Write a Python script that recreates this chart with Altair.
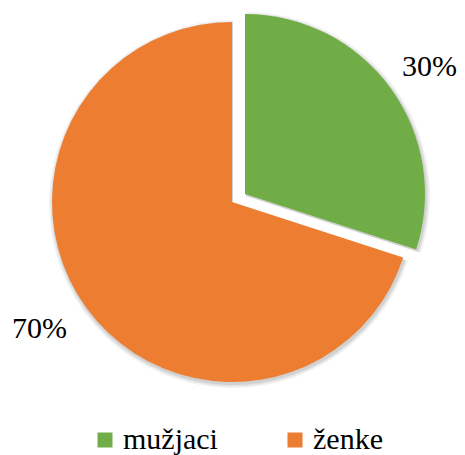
import math
import altair as alt
import pandas as pd

categories = ["mužjaci", "ženke"]
values = [30, 70]
labels = ["30%", "70%"]
colors = ["#70AD47", "#ED7D31"]

total = sum(values)
df = pd.DataFrame({"cat": categories, "val": values, "label": labels, "idx": list(range(len(categories)))})

FONT = "Tinos"

theta_scale = alt.Scale(domain=[0, total], range=[0, 2 * math.pi])
color_scale = alt.Scale(domain=categories, range=colors)
legend = alt.Legend(
    orient="none", legendX=82, legendY=417, direction="horizontal", title=None,
    symbolType="square", symbolSize=225, symbolStrokeWidth=0,
    labelFont=FONT, labelFontSize=30, labelColor="black", labelLimit=300,
    columnPadding=62, labelOffset=3, padding=0,
)

base = alt.Chart(df).transform_stack(
    stack="val", groupby=[], as_=["start", "end"], sort=[alt.SortField("idx")]
).transform_calculate(mid="(datum.start + datum.end) / 2")

R = 180
centers = {"mužjaci": (237, 186), "ženke": (224, 194)}
label_shift = {"mužjaci": (0, 7), "ženke": (-8, -7)}

layers = []
# soft shadows
for cat in categories:
    cx, cy = centers[cat]
    sub = base.transform_filter(alt.datum.cat == cat)
    for dr, op in [(4, 0.05), (2.5, 0.06), (1, 0.08)]:
        layers.append(
            sub.mark_arc(radius=R + dr, stroke=None, fill="#000000", opacity=op).encode(
                theta=alt.Theta("start:Q", scale=theta_scale),
                theta2="end:Q",
                x=alt.value(cx + 1), y=alt.value(cy + 2),
            )
        )
for cat in categories:
    cx, cy = centers[cat]
    sub = base.transform_filter(alt.datum.cat == cat)
    layers.append(
        sub.mark_arc(radius=R, stroke=None).encode(
            theta=alt.Theta("start:Q", scale=theta_scale),
            theta2="end:Q",
            fill=alt.Fill("cat:N", scale=color_scale, legend=legend),
            x=alt.value(cx), y=alt.value(cy),
        )
    )
for cat in categories:
    cx, cy = centers[cat]
    ldx, ldy = label_shift[cat]
    sub = base.transform_filter(alt.datum.cat == cat)
    layers.append(
        sub.mark_text(radius=228, font=FONT, fontSize=30, color="black", dx=ldx, dy=ldy).encode(
            theta=alt.Theta("mid:Q", scale=theta_scale),
            text="label:N",
            x=alt.value(cx), y=alt.value(cy),
        )
    )

chart = alt.layer(*layers).properties(
    width=449, height=447, autosize="none", padding=0
).configure_view(stroke=None)

chart.save("out.html", embed_options={"renderer": "svg", "actions": False})
